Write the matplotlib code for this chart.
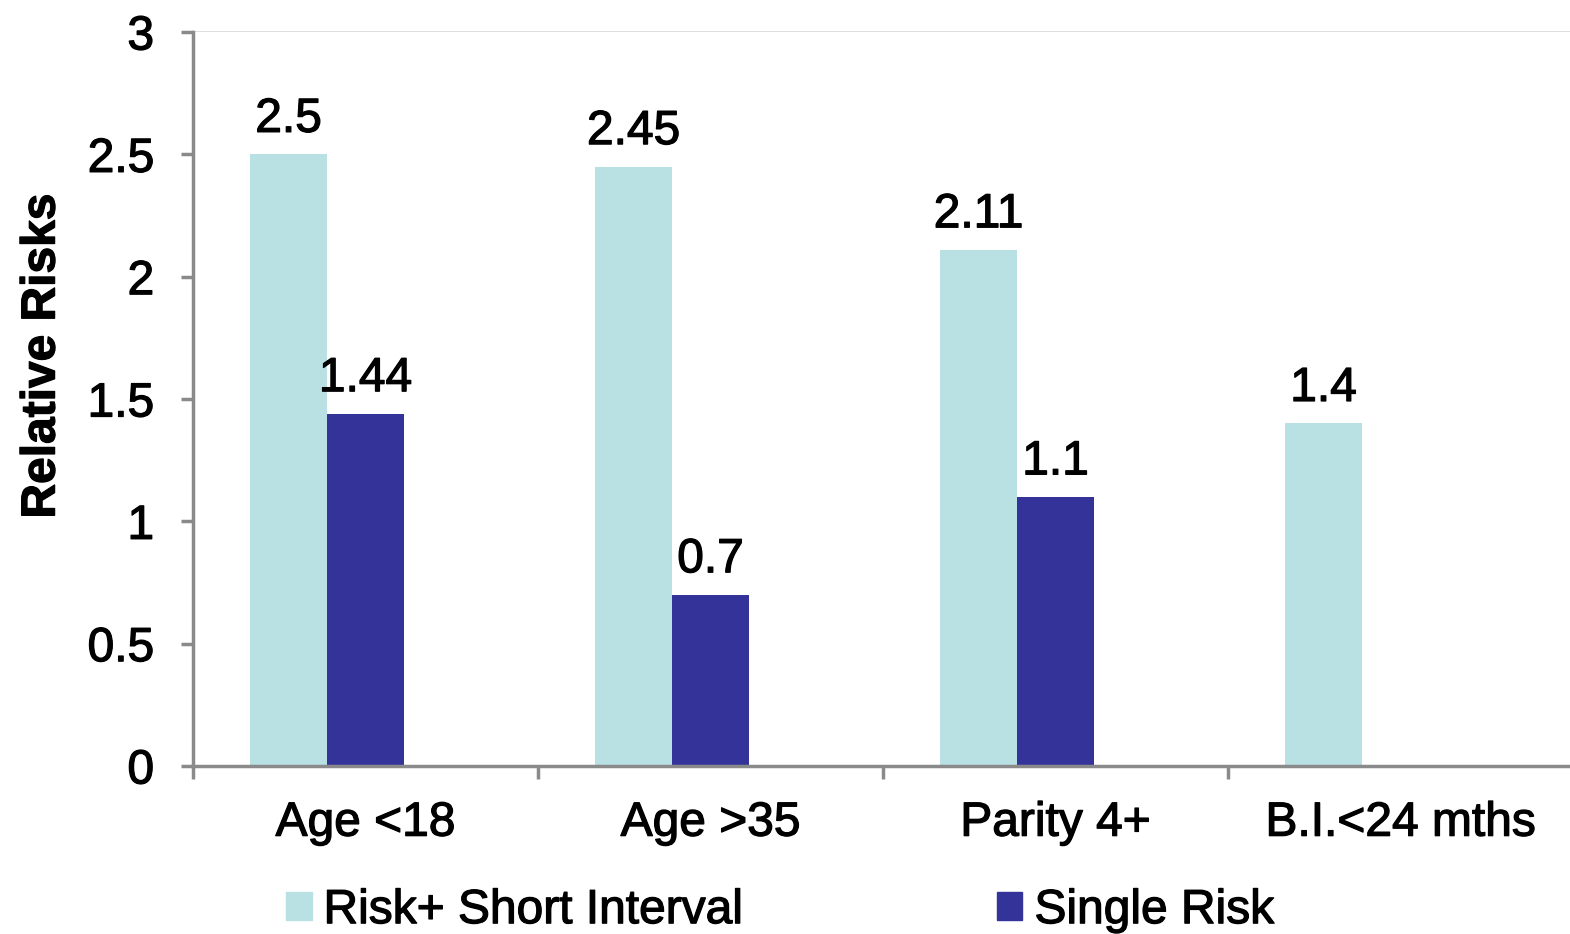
import numpy as np
import matplotlib.pyplot as plt
import matplotlib.patheffects as pe
from matplotlib.patches import Patch

# chart data
categories = ["Age <18", "Age >35", "Parity 4+", "B.I.<24 mths"]
short_interval = [2.5, 2.45, 2.11, 1.4]
single_risk = [1.44, 0.7, 1.1, np.nan]
short_labels = ["2.5", "2.45", "2.11", "1.4"]
single_labels = ["1.44", "0.7", "1.1", ""]
yticks = [0, 0.5, 1, 1.5, 2, 2.5, 3]
ytick_labels = ["0", "0.5", "1", "1.5", "2", "2.5", "3"]

light = "#b9e0e3"
dark = "#333399"
grey = "#8a8a8a"
fs = 34.5

plt.rcParams['font.family'] = ['Liberation Sans', 'DejaVu Sans']
# the source text looks a bit heavier than plain Arial
plt.rcParams['path.effects'] = [pe.withStroke(linewidth=0.9, foreground="black")]

fig = plt.figure(figsize=(15.7, 9.34), dpi=100)
ax = fig.add_axes([0.1229, 0.1799, 0.879, 0.7858])

x = np.arange(len(categories))
w = 0.2232
ax.bar(x - w, short_interval, w, color=light, label="Risk+ Short Interval",
       path_effects=[])
ax.bar(x, single_risk, w, color=dark, label="Single Risk", path_effects=[])

for xi, v, s in zip(x - w, short_interval, short_labels):
    ax.annotate(s, (xi, v), xytext=(0, 9), textcoords="offset points",
                ha="center", va="bottom", fontsize=fs)
for xi, v, s in zip(x, single_risk, single_labels):
    if s:
        ax.annotate(s, (xi, v), xytext=(0, 9), textcoords="offset points",
                    ha="center", va="bottom", fontsize=fs)

ax.set_xlim(-0.5, 3.5)
ax.set_ylim(0, 3)
ax.set_yticks(yticks)
ax.set_yticklabels(ytick_labels)
ax.set_xticks(x)
ax.set_xticklabels(categories)
ax.set_xticks(np.arange(-0.5, 3.5, 1.0), minor=True)

for side in ["top", "right"]:
    ax.spines[side].set_visible(False)
for side in ["left", "bottom"]:
    ax.spines[side].set_color(grey)
    ax.spines[side].set_linewidth(2.5)
    ax.spines[side].set_path_effects([])

ax.tick_params(axis="y", direction="out", length=9, width=2.5, color=grey,
               labelsize=fs, pad=19)
ax.tick_params(axis="x", which="major", length=0, labelsize=fs, pad=25)
ax.tick_params(axis="x", which="minor", direction="out", length=9, width=2.5,
               color=grey)
for t in ax.yaxis.get_ticklines() + ax.xaxis.get_minorticklines():
    t.set_path_effects([])

ax.set_ylabel("Relative Risks", fontsize=fs, fontweight="bold")
ax.yaxis.set_label_coords(-0.093, 0.5586)

handles = [Patch(color=light), Patch(color=dark)]
leg = fig.legend(handles, ["Risk+ Short Interval", "Single Risk"], loc="center",
                 bbox_to_anchor=(0.497, 0.025), ncol=2, frameon=False, fontsize=fs,
                 handlelength=0.53, handleheight=0.53, handletextpad=0.25,
                 columnspacing=5.3, borderpad=0)
for p in leg.get_patches():
    p.set_path_effects([])

fig.savefig("out.png", dpi=100)
